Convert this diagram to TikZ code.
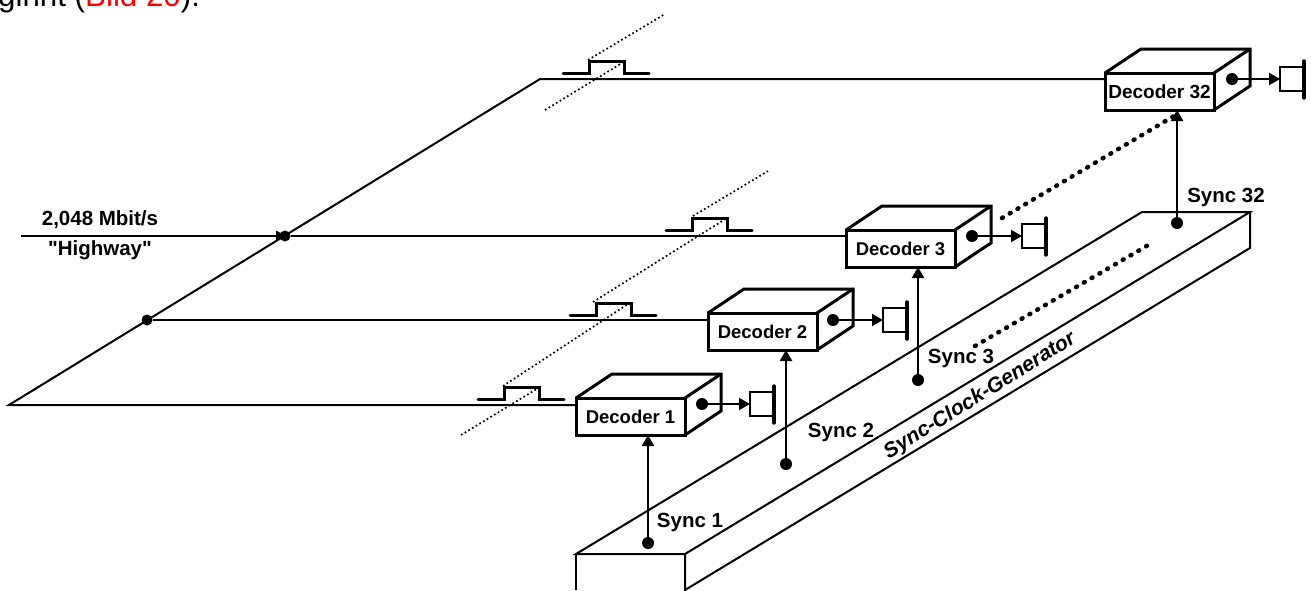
\documentclass[tikz,border=0pt]{standalone}
\usepackage{fontspec}
\setmainfont{Liberation Sans}[Ligatures=TeXOff]
\usetikzlibrary{arrows.meta}
\definecolor{refred}{RGB}{255,0,0}
\tikzset{
  wire/.style={line width=2pt},
  boxedge/.style={line width=3pt,line join=miter},
  decoderfront/.style={draw,line width=3pt,minimum width=109pt,minimum height=37pt,inner sep=0pt,outer sep=0pt,font=\fontsize{18.5}{20}\selectfont\bfseries,anchor=north west},
  lab/.style={inner sep=0pt,font=\fontsize{20.5}{22}\selectfont\bfseries},
  junction/.style={circle,fill=black,inner sep=0pt,minimum size=12pt,outer sep=0pt},
  smalljunction/.style={circle,fill=black,inner sep=0pt,minimum size=11pt,outer sep=0pt},
  tip/.style={-{Triangle[length=11pt,width=12pt]}},
  pulseline/.style={line width=3pt,line join=miter,line cap=round},
  thindots/.style={line width=1.7pt,dash pattern=on 1.7pt off 2.6pt},
  thickdots/.style={line width=4.5pt,line cap=round,dash pattern=on 1pt off 8pt},
  spk/.style={draw,line width=2.6pt,minimum width=24pt,minimum height=24pt,inner sep=0pt,outer sep=0pt},
}
\newcommand\decoderbox[4]{%
  \node[decoderfront] (#1) at (#2,#3) {#4};
  \draw[boxedge] (#1.north west) -- ++(36,-24) -- ++(109,0) -- ++(0,37) -- (#1.south east);
  \draw[boxedge] (#1.north east) -- ++(36,-24);
}
\newcommand\pulseat[2]{%
  \draw[pulseline] (#1,#2) -- ++(26,0) -- ++(0,-12) -- ++(35,0) -- ++(0,12) -- ++(25,0);
}
\newcommand\speaker[3]{%
  \node[spk,anchor=east] (#1) at (#2,#3) {};
  \draw[line width=3.4pt,line cap=round] (#2,#3-18) -- (#2,#3+19);
}
\begin{document}
\begin{tikzpicture}[x=1pt,y=-1pt]
\useasboundingbox (0,0) rectangle (1311,590);

% clipped line of running text
\begin{scope}
\clip (0,0) rectangle (1311,590);
\node[anchor=base west,inner sep=0pt,font=\fontsize{31.3}{34}\selectfont] (runtext) at (-2,6.5)
  {ginnt (\textcolor{refred}{Bild 20}):};
\end{scope}

% sync clock generator
\coordinate (gfl) at (576,554);
\coordinate (gfr) at (685,554);
\coordinate (gbl) at (1142,212);
\coordinate (gbr) at (1250,212);
\coordinate (gbb) at (1250,248);
\coordinate (gdl) at (576,590);
\coordinate (gdr) at (685,590);
\draw[wire,line join=miter] (gfl) -- (gbl) -- (gbr) -- (gfr) -- cycle;
\draw[wire] (gfl) -- (gdl);
\draw[wire] (gfr) -- (gdr) -- (gbb) -- (gbr);
\node[inner sep=0pt,rotate=32,font=\fontsize{21}{22}\selectfont\bfseries\itshape] (genlabel) at (980,396) {Sync-Clock-Generator};

% thin dotted skew lines
\coordinate (a1) at (461,435); \coordinate (a2) at (540,387);
\coordinate (b1) at (503,386); \coordinate (b2) at (631,302);
\coordinate (c1) at (593,302); \coordinate (c2) at (727,218);
\coordinate (d1) at (693,216); \coordinate (d2) at (768,171);
\coordinate (e1) at (545,110); \coordinate (e2) at (622,63);
\coordinate (f1) at (588,60);  \coordinate (f2) at (665,14);
\foreach \p/\q in {a1/a2,b1/b2,c1/c2,d1/d2,e1/e2,f1/f2}
  \draw[thindots] (\p) -- (\q);

% pulses
\pulseat{478}{399}
\pulseat{570}{315}
\pulseat{666}{230}
\pulseat{563}{73}

% decoders
\decoderbox{dec1}{576}{398}{Decoder 1}
\decoderbox{dec2}{708}{313}{Decoder 2}
\decoderbox{dec3}{846}{230}{Decoder 3}
\decoderbox{dec32}{1105}{73}{\fontsize{19}{20}\selectfont Decoder 32}

% highway lines
\coordinate (hw0) at (21,236);
\coordinate (corner1) at (9,405);
\coordinate (corner2) at (540,79);
\node[smalljunction] (j3) at (285,236) {};
\node[smalljunction] (j2) at (147,320) {};
\fill (276,230.5) -- (286,236) -- (276,241.5) -- cycle;
\draw[wire] (hw0) -- (j3) -- (dec3.west |- j3);
\draw[wire] (j2) -- (dec2.west |- j2);
\draw[wire] (dec1.west |- 0,405) -- (corner1) -- (corner2) -- (dec32.west |- corner2);

% speakers
\node[junction] (o1) at (702,404) {};
\node[junction] (o2) at (833,320) {};
\node[junction] (o3) at (972,236) {};
\node[junction] (o32) at (1232,79) {};
\speaker{s1}{774}{404}
\speaker{s2}{907}{320}
\speaker{s3}{1046}{236}
\speaker{s32}{1304}{79}
\foreach \a/\b in {o1/s1,o2/s2,o3/s3,o32/s32}
  \draw[wire,tip] (\a) -- (\b.west);

% sync lines
\node[junction] (y1) at (648,543) {};
\node[junction] (y2) at (786,464) {};
\node[junction] (y3) at (918,380) {};
\node[junction] (y32) at (1177,223) {};
\coordinate (t1) at (648,435);
\coordinate (t2) at (786,350);
\coordinate (t3) at (918,267);
\coordinate (t32) at (1177,110);
\foreach \a/\b in {y1/t1,y2/t2,y3/t3,y32/t32}
  \draw[line width=2.4pt,tip] (\a) -- (\b);

% thick dotted continuation
\coordinate (p1) at (1002,218);
\coordinate (p2) at (1174,116);
\coordinate (q1) at (975,346);
\coordinate (q2) at (1150,244);
\draw[thickdots] (p1) -- (p2);
\draw[thickdots] (q1) -- (q2);

% labels
\node[lab] (rate) at (100,220) {2,048 Mbit/s};
\node[lab] (hwlab) at (100,250) {"Highway"};
\node[lab] (sy1) at (690,522) {Sync 1};
\node[lab] (sy2) at (841,432) {Sync 2};
\node[lab] (sy3) at (961,358) {Sync 3};
\node[lab] (sy32) at (1226,197) {Sync 32};
\end{tikzpicture}
\end{document}
